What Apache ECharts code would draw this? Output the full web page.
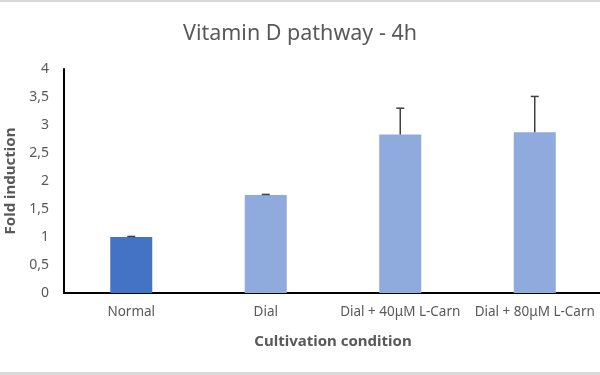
<!DOCTYPE html>
<html lang="en">
<head>
    <meta charset="UTF-8">
    <title>Vitamin D pathway - 4h</title>
    <script src="https://cdn.jsdelivr.net/npm/echarts@6/dist/echarts.min.js"></script>
    <style>
        html, body { margin: 0; padding: 0; background: #fff; }
        #main { width: 600px; height: 375px; }
    </style>
</head>
<body>
<div id="main"></div>
<script type="text/javascript">
    // data
    var conditions = ['Normal', 'Dial', 'Dial + 40\u03bcM L-Carn', 'Dial + 80\u03bcM L-Carn'];
    var foldValues = [1.0, 1.75, 2.83, 2.87];
    var errorPlus = [0.01, 0.01, 0.47, 0.64];
    var barColors = ['#4472C4', '#8FAADC', '#8FAADC', '#8FAADC'];

    var font = 'Noto Sans';
    var myChart = echarts.init(document.getElementById('main'));

    var errData = conditions.map(function (c, i) {
        return [i, foldValues[i], foldValues[i] + errorPlus[i]];
    });

    var option = {
        animation: false,
        textStyle: { fontFamily: font },
        title: {
            text: 'Vitamin D pathway - 4h',
            left: 'center',
            top: 18,
            textStyle: { fontFamily: font, fontSize: 21.5, fontWeight: 'normal', color: '#595959' }
        },
        graphic: [
            { type: 'rect', shape: { x: 0, y: 0, width: 600, height: 2 }, style: { fill: '#d9d9d9' } },
            { type: 'rect', shape: { x: 0, y: 372, width: 600, height: 3 }, style: { fill: '#d9d9d9' } }
        ],
        grid: { left: 64, top: 69, width: 538, height: 224, containLabel: false, outerBoundsMode: 'none' },
        xAxis: {
            type: 'category',
            data: conditions,
            name: 'Cultivation condition',
            nameLocation: 'middle',
            nameGap: 41,
            nameTextStyle: { fontFamily: font, fontSize: 15, fontWeight: 'bold', color: '#595959' },
            axisLine: { lineStyle: { color: '#000', width: 2 } },
            axisTick: { show: false },
            axisLabel: { fontFamily: font, fontSize: 13.5, color: '#595959', margin: 12, interval: 0, hideOverlap: false }
        },
        yAxis: {
            type: 'value',
            min: 0,
            max: 4,
            interval: 0.5,
            name: 'Fold induction',
            nameLocation: 'middle',
            nameGap: 41,
            nameTextStyle: { fontFamily: font, fontSize: 15, fontWeight: 'bold', color: '#595959' },
            axisLine: { show: true, lineStyle: { color: '#000', width: 2 } },
            axisTick: { show: false },
            splitLine: { show: false },
            axisLabel: {
                fontFamily: font, fontSize: 14, color: '#595959', margin: 15,
                formatter: function (v) { return String(v).replace('.', ','); }
            }
        },
        series: [
            {
                type: 'bar',
                barWidth: 42,
                data: foldValues.map(function (v, i) {
                    return { value: v, itemStyle: { color: barColors[i] } };
                })
            },
            {
                type: 'custom',
                data: errData,
                z: 5,
                renderItem: function (params, api) {
                    var x = api.value(0);
                    var lo = api.coord([x, api.value(1)]);
                    var hi = api.coord([x, api.value(2)]);
                    var style = { stroke: '#404040', lineWidth: 1.5 };
                    return {
                        type: 'group',
                        children: [
                            { type: 'line', shape: { x1: lo[0], y1: lo[1], x2: hi[0], y2: hi[1] }, style: style },
                            { type: 'line', shape: { x1: hi[0] - 4, y1: hi[1], x2: hi[0] + 4, y2: hi[1] }, style: style }
                        ]
                    };
                }
            }
        ]
    };

    myChart.setOption(option);
</script>
</body>
</html>
